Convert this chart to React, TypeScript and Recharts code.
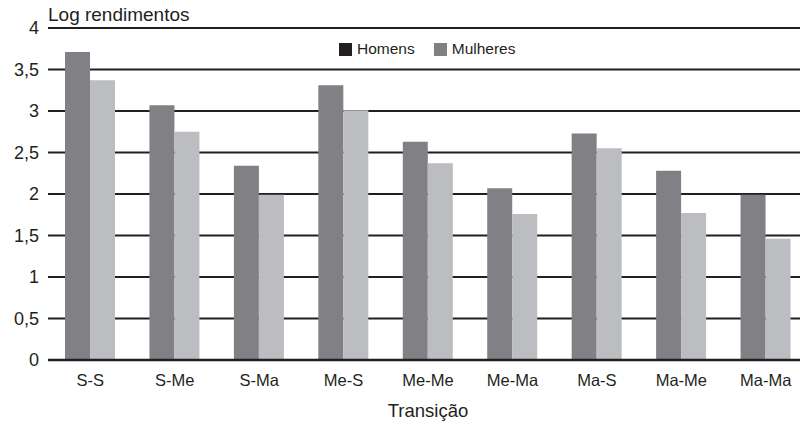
import React from "react";
import {
  BarChart,
  Bar,
  XAxis,
  YAxis,
  CartesianGrid,
} from "recharts";

const categories = ["S-S", "S-Me", "S-Ma", "Me-S", "Me-Me", "Me-Ma", "Ma-S", "Ma-Me", "Ma-Ma"];
const homens = [3.71, 3.07, 2.34, 3.31, 2.63, 2.07, 2.73, 2.28, 1.99];
const mulheres = [3.37, 2.75, 1.99, 3.01, 2.37, 1.76, 2.55, 1.77, 1.46];
const yTicks = [0, 0.5, 1, 1.5, 2, 2.5, 3, 3.5, 4];

const seriesNames = ["Homens", "Mulheres"];
const barColors = ["#808085", "#bcbdc0"];
const legendColors = ["#231f20", "#808080"];

const data = categories.map((c, i) => ({
  name: c,
  Homens: homens[i],
  Mulheres: mulheres[i],
}));

const font = "'Liberation Sans', Arial, Helvetica, sans-serif";

function LegendBox() {
  return (
    <div
      style={{
        position: "absolute",
        left: 339,
        top: 40,
        display: "flex",
        fontFamily: font,
        fontSize: 15.5,
        lineHeight: "18px",
        color: "#231f20",
      }}
    >
      {seriesNames.map((n, i) => (
        <div key={n} style={{ display: "flex", alignItems: "center", marginRight: 19 }}>
          <span
            style={{
              display: "inline-block",
              width: 13,
              height: 13,
              background: legendColors[i],
              marginRight: 5,
            }}
          />
          <span>{n}</span>
        </div>
      ))}
    </div>
  );
}

export default function App() {
  return (
    <div style={{ position: "relative", width: 808, height: 426, marginLeft: -8, marginTop: -8, background: "#fff" }}>
      <BarChart
        width={808}
        height={426}
        data={data}
        margin={{ top: 28, right: 0, left: 0, bottom: 0 }}
        barSize={25}
        barGap={0}
      >
        <CartesianGrid vertical={false} stroke="#231f20" strokeWidth={2} />
        <XAxis
          dataKey="name"
          height={66}
          tickLine={false}
          tickSize={0}
          tickMargin={14}
          axisLine={{ stroke: "#231f20", strokeWidth: 2.5 }}
          tick={{ fontSize: 16.5, fill: "#231f20", fontFamily: font }}
          interval={0}
        />
        <YAxis
          width={48}
          domain={[0, 4]}
          ticks={yTicks}
          axisLine={false}
          tickLine={false}
          tickSize={0}
          tickMargin={9}
          tick={{ fontSize: 18, fill: "#231f20", fontFamily: font }}
          tickFormatter={(v: number) => String(v).replace(".", ",")}
        />
        {seriesNames.map((n, i) => (
          <Bar key={n} dataKey={n} fill={barColors[i]} isAnimationActive={false} />
        ))}
      </BarChart>
      <LegendBox />
      <div
        style={{
          position: "absolute",
          left: 48,
          top: 5,
          fontFamily: font,
          fontSize: 19,
          color: "#231f20",
          lineHeight: "20px",
        }}
      >
        Log rendimentos
      </div>
      <div
        style={{
          position: "absolute",
          left: 48,
          width: 760,
          top: 401,
          textAlign: "center",
          fontFamily: font,
          fontSize: 18.5,
          color: "#231f20",
          lineHeight: "20px",
        }}
      >
        Transição
      </div>
    </div>
  );
}
